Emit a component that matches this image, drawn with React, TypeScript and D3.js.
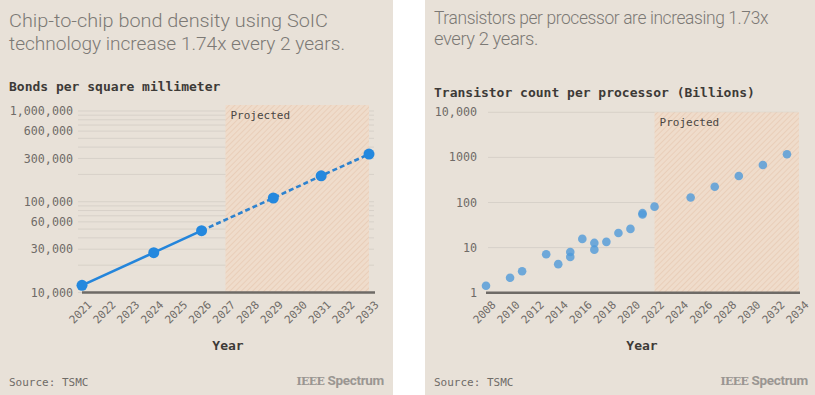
import * as d3 from "d3";

// left chart: SoIC bond density
const bondYears = [2021, 2024, 2026, 2029, 2031, 2033];
const bondValues = [12000, 27500, 48000, 110000, 193000, 335000];
const bondAxisYears = d3.range(2021, 2034);
const bondTickValues = [1000000, 600000, 300000, 100000, 60000, 30000, 10000];

// right chart: transistor counts (billions)
const procYears = [2008, 2010, 2011, 2013, 2014, 2015, 2015, 2016, 2017, 2017, 2018, 2019, 2020, 2021, 2021, 2022, 2025, 2027, 2029, 2031, 2033];
const procValues = [1.43, 2.15, 3.0, 7.1, 4.3, 8.0, 6.2, 15.6, 12.7, 9.0, 13.4, 21, 26, 58, 54, 81, 129, 223, 386, 678, 1170];
const procTickValues = [10000, 1000, 100, 10, 1];
const procTickLabels = ["10,000", "1000", "100", "10", "1"];
const procAxisYears = d3.range(2008, 2035, 2);

const BG = "#e8e1d8";
const MONO = "'DejaVu Sans Mono', monospace";
const SANS = "Roboto, 'Noto Sans', sans-serif";
const TITLE_COLOR = "#7c7975";
const LABEL_COLOR = "#6f6b67";

const Logo = ({ x, y }: { x: number; y: number }) => (
  <text x={x} y={y} textAnchor="end" fill="#9a9692" fontSize={13.5} fontWeight={700}>
    <tspan fontFamily="'DejaVu Serif', serif" fontSize={11} letterSpacing={-0.6}>IEEE</tspan>
    <tspan fontFamily={SANS} dx={3} letterSpacing={-0.3}>Spectrum</tspan>
  </text>
);

const BondChart = () => {
  const x = d3.scalePoint<number>().domain(bondAxisYears).range([82, 369]);
  const y = d3.scaleLog().domain([10000, 1000000]).range([292.5, 111]);
  const fmt = d3.format(",");
  const line = d3
    .line<number>()
    .x((_, i) => x(bondYears[i]) as number)
    .y((d) => y(d));
  const idx2026 = bondYears.indexOf(2026);
  const solidPath = line(bondValues.slice(0, idx2026 + 1)) || "";
  const dashed = bondValues.map((v, i) => [x(bondYears[i]) as number, y(v)] as [number, number]).slice(idx2026);
  const dashedPath = d3.line()(dashed) || "";
  const px0 = x(2027) as number;
  const px1 = x(2033) as number;

  return (
    <g>
      <rect x={0} y={0} width={393} height={395} fill={BG} />
      <text fontFamily={SANS} fontWeight={300} fontSize={19} fill={TITLE_COLOR}>
        <tspan x={9} y={27} textLength={319} lengthAdjust="spacingAndGlyphs">Chip-to-chip bond density using SoIC</tspan>
        <tspan x={9} y={50} textLength={336} lengthAdjust="spacingAndGlyphs">technology increase 1.74x every 2 years.</tspan>
      </text>
      <text x={9} y={91} fontFamily={MONO} fontWeight={700} fontSize={13} fill="#3d3a37">
        Bonds per square millimeter
      </text>
      {y.ticks().map((t) => (
        <line key={t} x1={78} x2={374} y1={y(t)} y2={y(t)} stroke="#d7d1c9" strokeWidth={1} />
      ))}
      <rect x={px0} y={105} width={px1 - px0} height={292.5 - 105} fill="url(#hatch)" />
      <text x={px0 + 5} y={119} fontFamily={MONO} fontSize={11} fill="#4a4643">Projected</text>
      {bondTickValues.map((t) => (
        <text key={t} x={73} y={y(t)} dy="0.35em" textAnchor="end" fontFamily={MONO} fontSize={11.7} fill={LABEL_COLOR}>
          {fmt(t)}
        </text>
      ))}
      <line x1={82} x2={375} y1={292.5} y2={292.5} stroke="#6e6a66" strokeWidth={2.5} />
      {bondAxisYears.map((yr) => (
        <text
          key={yr}
          transform={`translate(${(x(yr) as number) + 5},${300}) rotate(-45)`}
          textAnchor="end"
          dy="0.7em"
          fontFamily={MONO}
          fontSize={11}
          fill={LABEL_COLOR}
        >
          {yr}
        </text>
      ))}
      <path d={solidPath} fill="none" stroke="#2485db" strokeWidth={2.6} />
      <path d={dashedPath} fill="none" stroke="#2d82cf" strokeWidth={2.6} strokeDasharray="5,3" />
      {bondValues.map((v, i) => (
        <circle key={i} cx={x(bondYears[i]) as number} cy={y(v)} r={5.5} fill="#2488de" />
      ))}
      <text x={228} y={350} textAnchor="middle" fontFamily={MONO} fontWeight={700} fontSize={13} fill="#3d3a37">Year</text>
      <text x={9} y={386} fontFamily={MONO} fontSize={11} fill={LABEL_COLOR}>Source: TSMC</text>
      <Logo x={384} y={385} />
    </g>
  );
};

const ProcChart = () => {
  const x = d3.scaleLinear().domain([2008, 2034]).range([486, 799]);
  const y = d3.scaleLog().domain([1, 10000]).range([292.7, 112.3]);
  const px0 = x(2022);
  const px1 = x(2034);

  return (
    <g>
      <rect x={425} y={0} width={390} height={395} fill={BG} />
      <text fontFamily={SANS} fontWeight={300} fontSize={18} letterSpacing={-0.4} fill={TITLE_COLOR}>
        <tspan x={434} y={24} textLength={334} lengthAdjust="spacingAndGlyphs">Transistors per processor are increasing 1.73x</tspan>
        <tspan x={434} y={45} textLength={104} lengthAdjust="spacingAndGlyphs">every 2 years.</tspan>
      </text>
      <text x={434} y={97} fontFamily={MONO} fontWeight={700} fontSize={13} fill="#3d3a37">
        Transistor count per processor (Billions)
      </text>
      {procTickValues.map((t) => (
        <line key={t} x1={488} x2={798} y1={y(t)} y2={y(t)} stroke="#d7d1c9" strokeWidth={1} />
      ))}
      <rect x={px0} y={112.3} width={px1 - px0} height={292.7 - 112.3} fill="url(#hatch)" />
      <text x={px0 + 5} y={126} fontFamily={MONO} fontSize={11} fill="#4a4643">Projected</text>
      {procTickValues.map((t, i) => (
        <text key={t} x={477} y={y(t)} dy="0.35em" textAnchor="end" fontFamily={MONO} fontSize={11.7} fill={LABEL_COLOR}>
          {procTickLabels[i]}
        </text>
      ))}
      <line x1={486} x2={800} y1={292.7} y2={292.7} stroke="#6e6a66" strokeWidth={2.5} />
      {procAxisYears.map((yr) => (
        <text
          key={yr}
          transform={`translate(${x(yr) + 5},${300}) rotate(-45)`}
          textAnchor="end"
          dy="0.7em"
          fontFamily={MONO}
          fontSize={11}
          fill={LABEL_COLOR}
        >
          {yr}
        </text>
      ))}
      {procValues.map((v, i) => (
        <circle key={i} cx={x(procYears[i])} cy={y(v)} r={4.3} fill="#4f9ad9" fillOpacity={0.8} />
      ))}
      <text x={642} y={350} textAnchor="middle" fontFamily={MONO} fontWeight={700} fontSize={13} fill="#3d3a37">Year</text>
      <text x={434} y={386} fontFamily={MONO} fontSize={11} fill={LABEL_COLOR}>Source: TSMC</text>
      <Logo x={808} y={385} />
    </g>
  );
};

const App = () => (
  <div style={{ position: "absolute", left: 0, top: 0 }}>
    <svg width={815} height={395} style={{ display: "block", background: "#fff" }}>
      <defs>
        <pattern id="hatch" patternUnits="userSpaceOnUse" width={4} height={4} patternTransform="rotate(45)">
          <rect width={4} height={4} fill="#efdccb" />
          <line x1={0} y1={0} x2={0} y2={4} stroke="#e5c5ad" strokeWidth={1.2} />
        </pattern>
      </defs>
      <BondChart />
      <ProcChart />
    </svg>
  </div>
);

export default App;
